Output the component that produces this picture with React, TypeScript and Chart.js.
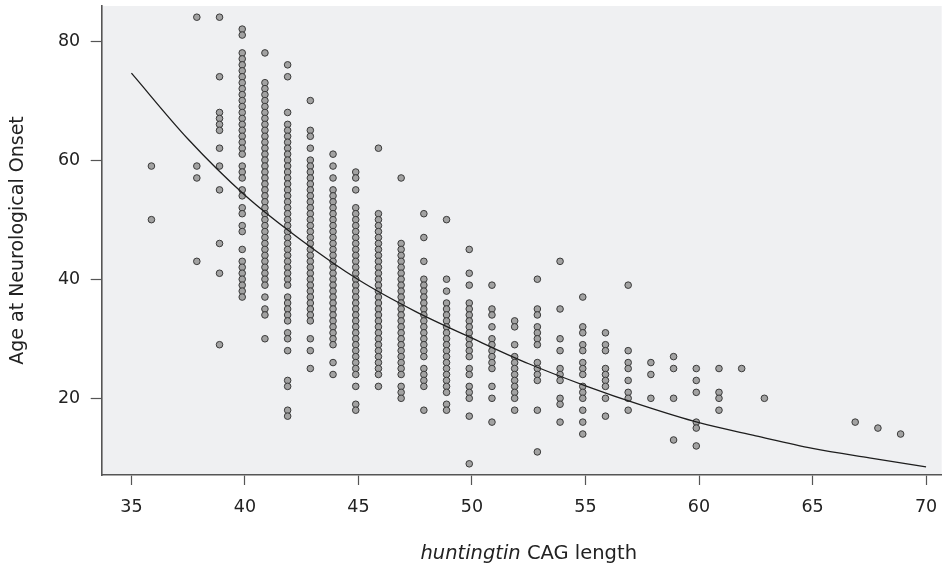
import React, { useEffect, useRef } from 'react';
import { Chart, registerables } from 'chart.js';

Chart.register(...registerables);

// huntingtin CAG repeat length of each column of points
const CAG_LENGTHS = [36, 38, 39, 40, 41, 42, 43, 44, 45, 46, 47, 48, 49, 50, 51, 52, 53, 54, 55, 56, 57, 58, 59, 60, 61, 62, 63, 67, 68, 69];

// ages at neurological onset observed for each CAG length above (same order)
const ONSET_AGES: number[][] = [
  [59, 50],
  [84, 59, 57, 43],
  [84, 74, 68, 67, 66, 65, 62, 59, 55, 46, 41, 29],
  [82, 81, 78, 77, 76, 75, 74, 73, 72, 71, 70, 69, 68, 67, 66, 65, 64, 63, 62, 61, 59, 58, 57, 55, 54, 52, 51, 49, 48, 45, 43, 42, 41, 40, 39, 38, 37],
  [78, 73, 72, 71, 70, 69, 68, 67, 66, 65, 64, 63, 62, 61, 60, 59, 58, 57, 56, 55, 54, 53, 52, 51, 50, 49, 48, 47, 46, 45, 44, 43, 42, 41, 40, 39, 37, 35, 34, 30],
  [76, 74, 68, 66, 65, 64, 63, 62, 61, 60, 59, 58, 57, 56, 55, 54, 53, 52, 51, 50, 49, 48, 47, 46, 45, 44, 43, 42, 41, 40, 39, 37, 36, 35, 34, 33, 31, 30, 28, 23, 22, 18, 17],
  [70, 65, 64, 62, 60, 59, 58, 57, 56, 55, 54, 53, 52, 51, 50, 49, 48, 47, 46, 45, 44, 43, 42, 41, 40, 39, 38, 37, 36, 35, 34, 33, 30, 28, 25],
  [61, 59, 57, 55, 54, 53, 52, 51, 50, 49, 48, 47, 46, 45, 44, 43, 42, 41, 40, 39, 38, 37, 36, 35, 34, 33, 32, 31, 30, 29, 26, 24],
  [58, 57, 55, 52, 51, 50, 49, 48, 47, 46, 45, 44, 43, 42, 41, 40, 39, 38, 37, 36, 35, 34, 33, 32, 31, 30, 29, 28, 27, 26, 25, 24, 22, 19, 18],
  [62, 51, 50, 49, 48, 47, 46, 45, 44, 43, 42, 41, 40, 39, 38, 37, 36, 35, 34, 33, 32, 31, 30, 29, 28, 27, 26, 25, 24, 22],
  [57, 46, 45, 44, 43, 42, 41, 40, 39, 38, 37, 36, 35, 34, 33, 32, 31, 30, 29, 28, 27, 26, 25, 24, 22, 21, 20],
  [51, 47, 43, 40, 39, 38, 37, 36, 35, 34, 33, 32, 31, 30, 29, 28, 27, 25, 24, 23, 22, 18],
  [50, 40, 38, 36, 35, 34, 33, 32, 31, 30, 29, 28, 27, 26, 25, 24, 23, 22, 21, 19, 18],
  [45, 41, 39, 36, 35, 34, 33, 32, 31, 30, 29, 28, 27, 25, 24, 22, 21, 20, 17, 9],
  [39, 35, 34, 32, 30, 29, 28, 27, 26, 25, 22, 20, 16],
  [33, 32, 29, 27, 26, 25, 24, 23, 22, 21, 20, 18],
  [40, 35, 34, 32, 31, 30, 29, 26, 25, 24, 23, 18, 11],
  [43, 35, 30, 28, 25, 24, 23, 20, 19, 16],
  [37, 32, 31, 29, 28, 26, 25, 24, 22, 21, 20, 18, 16, 14],
  [31, 29, 28, 25, 24, 23, 22, 20, 17],
  [39, 28, 26, 25, 23, 21, 20, 18],
  [26, 24, 20],
  [27, 25, 20, 13],
  [25, 23, 21, 16, 15, 12],
  [25, 21, 20, 18],
  [25],
  [20],
  [16],
  [15],
  [14],
];

// fitted curve
const FIT_CAG = [35, 37.5, 40, 42.5, 45, 47.5, 50, 52.5, 55, 57.5, 60, 62.5, 65, 67.5, 70];
const FIT_AGE = [74.6, 63.5, 54.1, 46.5, 39.9, 34.6, 30.1, 25.8, 22.1, 18.8, 15.9, 13.7, 11.6, 10.0, 8.5];

const X_TICKS = [35, 40, 45, 50, 55, 60, 65, 70];
const Y_TICKS = [20, 40, 60, 80];

const X_TITLE_ITALIC = 'huntingtin';
const X_TITLE_REST = ' CAG length';
const Y_TITLE = 'Age at Neurological Onset';

const FONT_FAMILY = '"DejaVu Sans", Verdana, sans-serif';
const TEXT_COLOR = '#222222';
const AXIS_COLOR = '#555555';
// markers in the source are drawn a hair left of their tick position (in CAG units)
const MARKER_NUDGE = -0.12;

const plotPlugin = {
  id: 'plotDecor',
  beforeDraw(chart: any) {
    const { ctx, chartArea: a } = chart;
    if (!a) return;
    ctx.save();
    ctx.fillStyle = '#eff0f2';
    ctx.fillRect(a.left, a.top, a.right - a.left, a.bottom - a.top);
    ctx.restore();
  },
  beforeDatasetDraw(chart: any, args: any) {
    if (args.meta.type !== 'scatter') return;
    const xs = chart.scales.x;
    const dx = xs.getPixelForValue(40 + MARKER_NUDGE) - xs.getPixelForValue(40);
    chart.ctx.save();
    chart.ctx.translate(dx, 0);
  },
  afterDatasetDraw(chart: any, args: any) {
    if (args.meta.type !== 'scatter') return;
    chart.ctx.restore();
  },
  afterDraw(chart: any) {
    const { ctx, chartArea: a } = chart;
    if (!a) return;
    const size = 19.5;
    ctx.save();
    ctx.font = `oblique ${size}px ${FONT_FAMILY}`;
    const w1 = ctx.measureText(X_TITLE_ITALIC).width;
    ctx.font = `${size}px ${FONT_FAMILY}`;
    const w2 = ctx.measureText(X_TITLE_REST).width;
    const cx = (a.left + a.right) / 2 + 7;
    const y = chart.height - 14;
    const x0 = cx - (w1 + w2) / 2;
    ctx.fillStyle = TEXT_COLOR;
    ctx.textBaseline = 'middle';
    ctx.textAlign = 'left';
    ctx.font = `oblique ${size}px ${FONT_FAMILY}`;
    ctx.fillText(X_TITLE_ITALIC, x0, y);
    ctx.font = `${size}px ${FONT_FAMILY}`;
    ctx.fillText(X_TITLE_REST, x0 + w1, y);
    ctx.restore();
  },
};

export default function App() {
  const canvasRef = useRef<HTMLCanvasElement | null>(null);

  useEffect(() => {
    const canvas = canvasRef.current;
    if (!canvas) return;

    const points: { x: number; y: number }[] = [];
    CAG_LENGTHS.forEach((cag, i) => {
      ONSET_AGES[i].forEach((age) => points.push({ x: cag, y: age }));
    });
    const fit = FIT_CAG.map((c, i) => ({ x: c, y: FIT_AGE[i] }));

    const chart = new Chart(canvas, {
      type: 'scatter',
      data: {
        datasets: [
          {
            type: 'line',
            label: 'Fit',
            data: fit,
            showLine: true,
            borderColor: '#1e1e1e',
            borderWidth: 1.3,
            pointRadius: 0,
            pointHoverRadius: 0,
            fill: false,
            cubicInterpolationMode: 'monotone',
            order: 0,
          } as any,
          {
            type: 'scatter',
            label: 'Patients',
            data: points,
            pointRadius: 3.3,
            pointHoverRadius: 3.3,
            backgroundColor: '#a2a2a2',
            borderColor: '#3a3a3a',
            borderWidth: 1,
            order: 1,
          } as any,
        ],
      },
      options: {
        responsive: false,
        animation: false,
        events: [],
        layout: { padding: { top: 6, right: 2, left: 0, bottom: 0 } },
        plugins: {
          legend: { display: false },
          tooltip: { enabled: false },
        },
        scales: {
          x: {
            type: 'linear',
            min: 33.69,
            max: 70.69,
            afterFit: (s: any) => {
              s.height = 93;
              s.paddingLeft = 0;
              s.paddingRight = 0;
            },
            afterBuildTicks: (s: any) => {
              s.ticks = X_TICKS.map((v) => ({ value: v }));
            },
            border: { display: true, color: AXIS_COLOR, width: 1.6 },
            grid: {
              display: true,
              drawOnChartArea: false,
              drawTicks: true,
              tickLength: 10,
              tickColor: AXIS_COLOR,
              tickWidth: 1.2,
            },
            ticks: {
              autoSkip: false,
              maxRotation: 0,
              padding: 12,
              color: TEXT_COLOR,
              font: { family: FONT_FAMILY, size: 17.5 },
            },
          },
          y: {
            type: 'linear',
            min: 7.12,
            max: 85.88,
            afterFit: (s: any) => {
              s.width = 101.7;
              s.paddingTop = 0;
              s.paddingBottom = 0;
            },
            afterBuildTicks: (s: any) => {
              s.ticks = Y_TICKS.map((v) => ({ value: v }));
            },
            border: { display: true, color: AXIS_COLOR, width: 1.6 },
            grid: {
              display: true,
              drawOnChartArea: false,
              drawTicks: true,
              tickLength: 11,
              tickColor: AXIS_COLOR,
              tickWidth: 1.2,
            },
            ticks: {
              padding: 10.5,
              color: TEXT_COLOR,
              font: { family: FONT_FAMILY, size: 17.5 },
            },
            title: {
              display: true,
              text: Y_TITLE,
              color: TEXT_COLOR,
              font: { family: FONT_FAMILY, size: 19 },
              padding: { top: 7, bottom: 0 },
            },
          },
        },
      },
      plugins: [plotPlugin],
    } as any);

    return () => chart.destroy();
  }, []);

  return (
    <div style={{ position: 'fixed', left: 0, top: 0, width: 946, height: 568, background: '#ffffff' }}>
      <canvas ref={canvasRef} width={946} height={568} style={{ display: 'block' }} />
    </div>
  );
}
